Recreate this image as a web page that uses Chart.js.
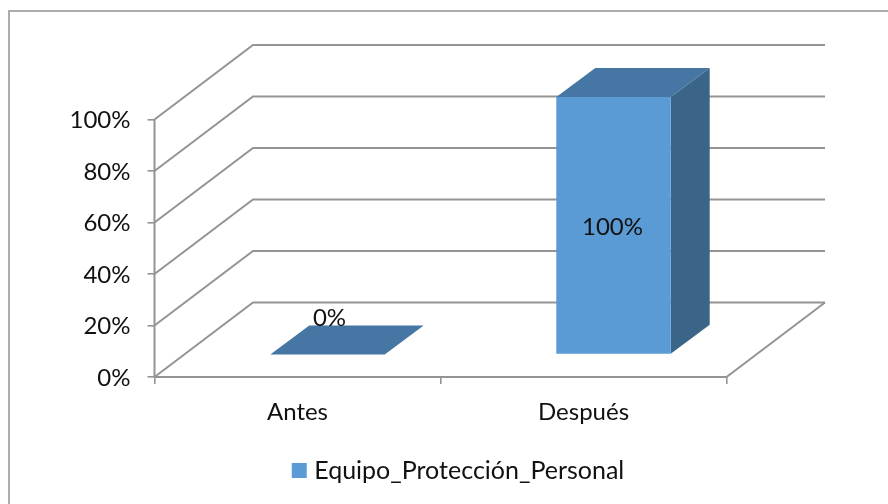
<!DOCTYPE html>
<html><head><meta charset="utf-8">
<style>html,body{margin:0;padding:0;background:#fff}#w{position:relative;width:888px;height:504px}canvas{display:block}</style>
<script src="https://cdn.jsdelivr.net/npm/chart.js@4"></script>
</head><body><div id="w"><canvas id="c" width="888" height="504"></canvas></div>
<script>
const categories = ['Antes', 'Después'];
const seriesName = 'Equipo_Protección_Personal';
const seriesValues = [0, 100];
const FONT = 'Lato';
const depth = {wallX: 98.5, wallY: -74.5, barFrontX: 30, barFrontY: -22.5, barDepthX: 39, barDepthY: -29};
const gridColor = '#949494', frontColor = '#5b9bd5', topColor = '#4677a4', sideColor = '#3a6488', textColor = '#111';

const threeD = {
  id: 'threeD',
  beforeDraw(chart) {
    const c = chart.ctx;
    c.save(); c.fillStyle = '#fff'; c.fillRect(0, 0, chart.width, chart.height);
    c.fillStyle = '#adadad'; c.fillRect(8, 10, 880, 2); c.fillRect(8, 10, 2, 494); c.restore();
  },
  beforeDatasetsDraw(chart) {
    const c = chart.ctx, y = chart.scales.y, x = chart.scales.x;
    const L = x.left, R = x.right;
    c.save(); c.strokeStyle = gridColor; c.lineWidth = 2; c.lineJoin = 'miter';
    y.ticks.forEach(t => {
      const p = y.getPixelForValue(t.value);
      c.beginPath(); c.moveTo(L, p); c.lineTo(L + depth.wallX, p + depth.wallY); c.lineTo(R + depth.wallX, p + depth.wallY); c.stroke();
    });
    const b = y.getPixelForValue(0);
    c.beginPath(); c.moveTo(L, y.getPixelForValue(100)); c.lineTo(L, b); c.lineTo(R, b); c.lineTo(R + depth.wallX, b + depth.wallY); c.stroke();
    c.restore();
  },
  beforeDatasetDraw(chart) {
    const c = chart.ctx, dx = depth.barFrontX, dy = depth.barFrontY, ox = depth.barDepthX, oy = depth.barDepthY;
    c.save(); c.translate(dx, dy);
    chart.getDatasetMeta(0).data.forEach(bar => {
      const l = bar.x - bar.width / 2, r = bar.x + bar.width / 2, t = bar.y, bt = bar.base;
      c.fillStyle = sideColor;
      c.beginPath(); c.moveTo(r, t); c.lineTo(r + ox, t + oy); c.lineTo(r + ox, bt + oy); c.lineTo(r, bt); c.closePath(); c.fill();
      c.fillStyle = topColor;
      c.beginPath(); c.moveTo(l, t); c.lineTo(l + ox, t + oy); c.lineTo(r + ox, t + oy); c.lineTo(r, t); c.closePath(); c.fill();
    });
  },
  afterDatasetDraw(chart) {
    const c = chart.ctx;
    c.restore();
    c.save(); c.fillStyle = textColor; c.font = '24px ' + FONT; c.textAlign = 'center'; c.textBaseline = 'middle';
    chart.getDatasetMeta(0).data.forEach((bar, i) => {
      const v = seriesValues[i];
      const cx = bar.x + depth.barFrontX + (v === 0 ? 2 : -1);
      const cy = v === 0 ? bar.y + depth.barFrontY - 36 : (bar.y + bar.base) / 2 + depth.barFrontY + 2;
      c.fillText(v + '%', cx, cy);
    });
    c.restore();
  }
};

new Chart(document.getElementById('c'), {
  type: 'bar',
  data: { labels: categories, datasets: [{ label: seriesName, data: seriesValues, backgroundColor: frontColor, borderWidth: 0, barPercentage: 0.4, categoryPercentage: 1 }] },
  plugins: [threeD],
  options: {
    responsive: false, animation: false,
    layout: { padding: { left: 33, right: 0, top: 119.5, bottom: 11 } },
    plugins: {
      tooltip: { enabled: false },
      legend: { position: 'bottom', labels: {
        font: { family: FONT, size: 25 }, color: textColor, boxWidth: 5, boxHeight: 5, padding: 10,
        generateLabels(chart) {
          return Chart.defaults.plugins.legend.labels.generateLabels(chart).map(it => Object.assign(it, { lineWidth: 10, strokeStyle: frontColor, fillStyle: frontColor }));
        }
      } }
    },
    scales: {
      x: {
        offset: true,
        afterFit(s) { s.height = 71; },
        grid: { drawOnChartArea: false, drawTicks: true, offset: true, tickLength: 7, color: gridColor, lineWidth: 1.6 },
        border: { display: false },
        ticks: { font: { family: FONT, size: 24 }, color: textColor, padding: 14, maxRotation: 0 }
      },
      y: {
        min: 0, max: 100,
        afterFit(s) { s.width = 121.5; },
        grid: { drawOnChartArea: false, drawTicks: true, tickLength: 7, color: gridColor, lineWidth: 1.6 },
        border: { display: false },
        ticks: { stepSize: 20, font: { family: FONT, size: 24 }, color: textColor, padding: 17, labelOffset: 1, callback: v => v + '%' }
      },
      y2: {
        display: true, position: 'right', min: 0, max: 100,
        afterFit(s) { s.width = 161.5; },
        grid: { display: false }, border: { display: false }, ticks: { display: false }
      }
    }
  }
});
</script></body></html>
